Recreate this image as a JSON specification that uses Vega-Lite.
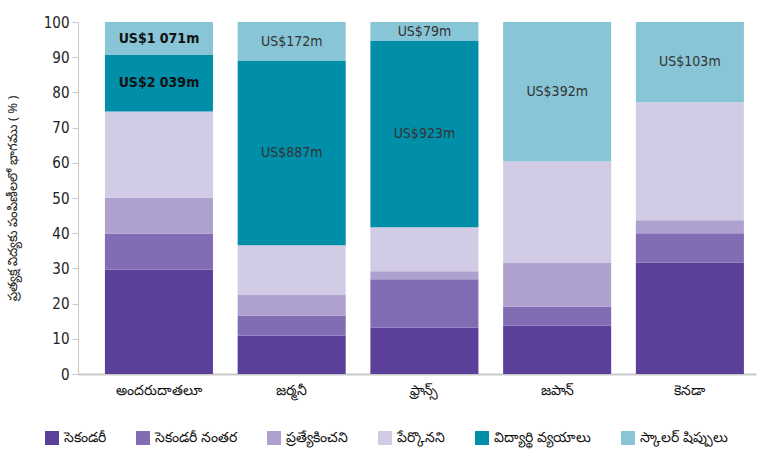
{
  "$schema": "https://vega.github.io/schema/vega-lite/v6.json",
  "autosize": {"type": "none"},
  "width": 678,
  "height": 352,
  "padding": {"left": 78, "top": 22, "right": 5, "bottom": 83},
  "background": "white",
  "config": {
    "view": {"stroke": null},
    "font": "Liberation Sans Narrow, DejaVu Sans Condensed, sans-serif",
    "axisY": {
      "titleFont": "Noto Sans, sans-serif",
      "titleFontSize": 13,
      "titleFontWeight": "normal",
      "titleColor": "#222222",
      "titlePadding": 24,
      "labelOverlap": false,
      "grid": false,
      "domainColor": "#c8c8c8",
      "tickColor": "#c8c8c8",
      "tickSize": 6,
      "labelFontSize": 15,
      "labelColor": "#222222",
      "labelPadding": 3
    }
  },
  "data": {
    "values": [
      {"country": "అందరుదాతలూ", "category": "సెకండరీ", "o": 1, "value": 29.7, "label": ""},
      {"country": "అందరుదాతలూ", "category": "సెకండరీ నంతర", "o": 2, "value": 10.2, "label": ""},
      {"country": "అందరుదాతలూ", "category": "ప్రత్యేకించని", "o": 3, "value": 10.2, "label": ""},
      {"country": "అందరుదాతలూ", "category": "పేర్కొనని", "o": 4, "value": 24.5, "label": ""},
      {"country": "అందరుదాతలూ", "category": "విద్యార్థి వ్యయాలు", "o": 5, "value": 16.0, "label": "US$2 039m"},
      {"country": "అందరుదాతలూ", "category": "స్కాలర్ షిప్పులు", "o": 6, "value": 9.4, "label": "US$1 071m"},
      {"country": "జర్మనీ", "category": "సెకండరీ", "o": 1, "value": 10.9, "label": ""},
      {"country": "జర్మనీ", "category": "సెకండరీ నంతర", "o": 2, "value": 5.7, "label": ""},
      {"country": "జర్మనీ", "category": "ప్రత్యేకించని", "o": 3, "value": 6.0, "label": ""},
      {"country": "జర్మనీ", "category": "పేర్కొనని", "o": 4, "value": 14.0, "label": ""},
      {"country": "జర్మనీ", "category": "విద్యార్థి వ్యయాలు", "o": 5, "value": 52.3, "label": "US$887m"},
      {"country": "జర్మనీ", "category": "స్కాలర్ షిప్పులు", "o": 6, "value": 11.1, "label": "US$172m"},
      {"country": "ఫ్రాన్స్", "category": "సెకండరీ", "o": 1, "value": 13.2, "label": ""},
      {"country": "ఫ్రాన్స్", "category": "సెకండరీ నంతర", "o": 2, "value": 13.7, "label": ""},
      {"country": "ఫ్రాన్స్", "category": "ప్రత్యేకించని", "o": 3, "value": 2.3, "label": ""},
      {"country": "ఫ్రాన్స్", "category": "పేర్కొనని", "o": 4, "value": 12.5, "label": ""},
      {"country": "ఫ్రాన్స్", "category": "విద్యార్థి వ్యయాలు", "o": 5, "value": 52.9, "label": "US$923m"},
      {"country": "ఫ్రాన్స్", "category": "స్కాలర్ షిప్పులు", "o": 6, "value": 5.4, "label": "US$79m"},
      {"country": "జపాన్", "category": "సెకండరీ", "o": 1, "value": 13.7, "label": ""},
      {"country": "జపాన్", "category": "సెకండరీ నంతర", "o": 2, "value": 5.5, "label": ""},
      {"country": "జపాన్", "category": "ప్రత్యేకించని", "o": 3, "value": 12.5, "label": ""},
      {"country": "జపాన్", "category": "పేర్కొనని", "o": 4, "value": 28.7, "label": ""},
      {"country": "జపాన్", "category": "విద్యార్థి వ్యయాలు", "o": 5, "value": 0, "label": ""},
      {"country": "జపాన్", "category": "స్కాలర్ షిప్పులు", "o": 6, "value": 39.6, "label": "US$392m"},
      {"country": "కెనడా", "category": "సెకండరీ", "o": 1, "value": 31.7, "label": ""},
      {"country": "కెనడా", "category": "సెకండరీ నంతర", "o": 2, "value": 8.3, "label": ""},
      {"country": "కెనడా", "category": "ప్రత్యేకించని", "o": 3, "value": 3.7, "label": ""},
      {"country": "కెనడా", "category": "పేర్కొనని", "o": 4, "value": 33.5, "label": ""},
      {"country": "కెనడా", "category": "విద్యార్థి వ్యయాలు", "o": 5, "value": 0, "label": ""},
      {"country": "కెనడా", "category": "స్కాలర్ షిప్పులు", "o": 6, "value": 22.8, "label": "US$103m"}
    ]
  },
  "encoding": {
    "x": {
      "field": "country",
      "type": "nominal",
      "sort": null,
      "scale": {"paddingInner": 0.186, "paddingOuter": 0.147, "align": 0.69},
      "axis": {
        "title": null,
        "labelAngle": 0,
        "ticks": false,
        "domainColor": "#c8c8c8",
        "domainWidth": 2,
        "labelFontSize": 14,
        "labelColor": "#111111",
        "labelPadding": 9,
        "labelFont": "Noto Sans, sans-serif"
      }
    }
  },
  "layer": [
    {
      "mark": {"type": "bar"},
      "encoding": {
        "y": {
          "field": "value",
          "type": "quantitative",
          "stack": "zero",
          "scale": {"domain": [0, 100], "nice": false},
          "axis": {
            "title": "ప్రత్యక్ష విద్యకు పంపిణీలలో భాగము ( % )",
            "values": [0, 10, 20, 30, 40, 50, 60, 70, 80, 90, 100]
          }
        },
        "color": {
          "field": "category",
          "type": "nominal",
          "scale": {
            "domain": ["సెకండరీ", "సెకండరీ నంతర", "ప్రత్యేకించని", "పేర్కొనని", "విద్యార్థి వ్యయాలు", "స్కాలర్ షిప్పులు"],
            "range": ["#5b3f99", "#826cb3", "#aea0cf", "#d2cbe5", "#008ea9", "#88c5d6"]
          },
          "legend": {
            "title": null,
            "orient": "none",
            "legendX": -33,
            "legendY": 409,
            "direction": "horizontal",
            "columns": 6,
            "columnPadding": 30,
            "symbolType": "square",
            "symbolSize": 196,
            "symbolStrokeWidth": 0,
            "labelFontSize": 14,
            "labelFont": "Noto Sans, sans-serif",
            "labelColor": "#111111",
            "labelOffset": 5,
            "labelLimit": 200
          }
        },
        "order": {"field": "o", "type": "quantitative"}
      }
    },
    {
      "transform": [
        {"stack": "value", "groupby": ["country"], "sort": [{"field": "o"}], "as": ["y0", "y1"]},
        {"calculate": "(datum.y0 + datum.y1) / 2", "as": "ymid"},
        {"filter": "datum.label != '' && datum.country == 'అందరుదాతలూ'"}
      ],
      "mark": {"type": "text", "fontSize": 14, "fontWeight": "bold", "color": "#111111", "baseline": "middle"},
      "encoding": {
        "y": {
          "field": "ymid",
          "type": "quantitative",
          "axis": {
            "title": "ప్రత్యక్ష విద్యకు పంపిణీలలో భాగము ( % )",
            "values": [0, 10, 20, 30, 40, 50, 60, 70, 80, 90, 100]
          }
        },
        "text": {"field": "label"}
      }
    },
    {
      "transform": [
        {"stack": "value", "groupby": ["country"], "sort": [{"field": "o"}], "as": ["y0", "y1"]},
        {"calculate": "(datum.y0 + datum.y1) / 2", "as": "ymid"},
        {"filter": "datum.label != '' && datum.country != 'అందరుదాతలూ'"}
      ],
      "mark": {"type": "text", "fontSize": 14, "color": "#333333", "baseline": "middle"},
      "encoding": {
        "y": {
          "field": "ymid",
          "type": "quantitative",
          "axis": {
            "title": "ప్రత్యక్ష విద్యకు పంపిణీలలో భాగము ( % )",
            "values": [0, 10, 20, 30, 40, 50, 60, 70, 80, 90, 100]
          }
        },
        "text": {"field": "label"}
      }
    }
  ]
}
